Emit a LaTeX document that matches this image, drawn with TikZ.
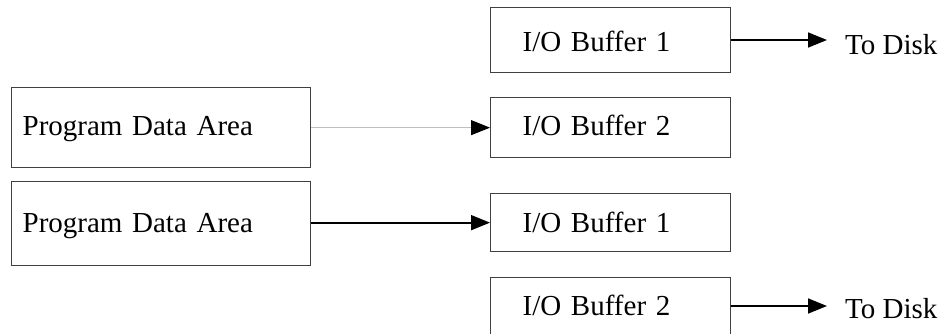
\documentclass[tikz,border=0pt]{standalone}
\usepackage{fontspec}
\setmainfont{Liberation Serif}
\usetikzlibrary{arrows.meta}
\begin{document}
\begin{tikzpicture}[x=1pt,y=-1pt,
  box/.style={draw=black!75, line width=1.3pt, inner ysep=0pt, align=left,
    font=\fontsize{29}{34}\selectfont, anchor=north west},
  iob/.style={box, inner xsep=32pt, text width=176pt},
  pda/.style={box, inner xsep=11pt, text width=277pt},
  lbl/.style={font=\fontsize{29}{34}\selectfont, inner sep=0pt, anchor=base west},
  blk/.style={line width=1.7pt, -{Triangle[length=19pt,width=15pt]}},
  gry/.style={draw=black!25, line width=1pt, -{Triangle[length=19pt,width=15pt,color=black,fill=black]}}]
\clip (0,0) rectangle (943,333);
\fill[white] (0,0) rectangle (943,333);
% boxes
\node[iob, text height=43.5pt, text depth=21.5pt] (b1) at (490,7) {I/O Buffer 1};
\node[iob, text height=38pt, text depth=22pt] (b2) at (490,97) {I/O Buffer 2};
\node[iob, text height=38.5pt, text depth=19.5pt] (b3) at (490,193) {I/O Buffer 1};
\node[iob, text height=38pt, text depth=20pt] (b4) at (490,277) {I/O Buffer 2};
\node[pda, text height=48pt, text depth=32pt] (p1) at (11,87) {Program Data Area};
\node[pda, text height=50.7pt, text depth=33.3pt] (p2) at (11,181) {Program Data Area};
% labels
\node[lbl] (d1) at (845,54) {To Disk};
\node[lbl] (d4) at (845,318) {To Disk};
\coordinate (e1) at (827,40);
\coordinate (e4) at (827,306);
% connectors
\draw[blk] (b1.east |- e1) -- (e1);
\draw[gry] (p1.east) -- (b2.west);
\draw[blk] (p2.east |- b3.west) -- (b3.west);
\draw[blk] (b4.east |- e4) -- (e4);
\end{tikzpicture}
\end{document}
